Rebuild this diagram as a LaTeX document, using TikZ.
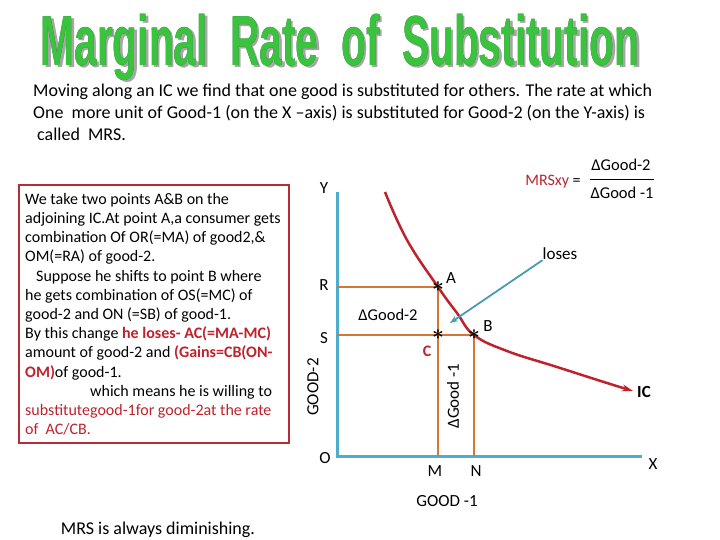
\documentclass[tikz,border=0pt]{standalone}
\usepackage{fontspec}
\setmainfont{Carlito}
\newfontfamily\headfont{Liberation Sans}
\usepackage{tikz}
\usetikzlibrary{positioning,arrows.meta}
\usepackage{xcolor}
\usepackage{pdfrender}

\definecolor{icred}{RGB}{190,35,45}
\definecolor{boxred}{RGB}{180,45,55}
\definecolor{axisblue}{RGB}{80,172,205}
\definecolor{guideorange}{RGB}{214,118,52}
\definecolor{headgreen}{RGB}{58,196,62}
\definecolor{headedge}{RGB}{32,100,48}
\definecolor{pointerteal}{RGB}{72,156,178}

\newcommand{\headword}{\scalebox{0.62}[1.08]{\fontsize{65.6}{70}\selectfont\headfont\bfseries Marginal\ \ Rate\ \ of\ \ Substitution}}

\begin{document}
\begin{tikzpicture}[x=1pt, y=-1pt,
    axisline/.style={draw=axisblue, line width=3pt},
    guideline/.style={draw=guideorange, line width=2.5pt},
    icline/.style={draw=icred, line width=2.5pt, -{Stealth[length=11pt, width=7pt]}},
    pointer/.style={draw=pointerteal, line width=1.8pt, -{Stealth[length=8pt, width=6pt]}},
    starmark/.style={inner sep=0pt, font=\fontsize{22}{22}\selectfont\boldmath},
    lbl/.style={inner sep=0pt, font=\fontsize{17}{20}\selectfont}
]

    % White page, fixed to the reference frame
    \useasboundingbox[fill=white] (0,0) rectangle (720,540);

    % Title: grey shadow, dark rim, green face
    \node[anchor=base, text=black!35] (headshade) at (342.5,68) {\headword};
    \node[anchor=base] (headrim) at (340,66) {%
        \textpdfrender{TextRenderingMode=FillStroke, LineWidth=2.6}{\color{headedge}\headword}};
    \node[anchor=base, text=headgreen] (head) at (340,66) {\headword};

    % Intro paragraph under the title
    \node[
        anchor=north west,
        align=left,
        inner sep=0pt,
        font=\fontsize{18}{22}\selectfont
    ] (intro) at (33,84) {
        Moving along an IC we find that one good is substituted for others. The rate at which\\
        One\ \ more unit of Good-1 (on the X --axis) is substituted for Good-2 (on the Y-axis) is\\
        \hspace*{4pt}called\ \ MRS.
    };

    % Left card: frame and explanation
    \node[
        draw=boxred,
        line width=2pt,
        minimum width=270pt,
        minimum height=257pt,
        inner sep=0pt
    ] (storybox) at (153.5,314) {};
    \node[
        anchor=north west,
        align=left,
        inner sep=0pt,
        font=\fontsize{16}{19.2}\selectfont
    ] (story) at (25,193) {
        We take two points A\&B on the\\
        adjoining IC.At point A,a consumer gets\\
        combination Of OR(=MA) of good2,\&\\
        OM(=RA) of good-2.\\
        \hspace*{11pt}Suppose he shifts to point B where\\
        he gets combination of OS(=MC) of\\
        good-2 and ON (=SB) of good-1.\\
        By this change \textcolor{icred}{\bfseries he loses- AC(=MA-MC)}\\
        amount of good-2 and \textcolor{icred}{\bfseries (Gains=CB(ON-}\\
        \textcolor{icred}{\bfseries OM)}of good-1.\\
        \hspace*{65pt}which means he is willing to\\
        \textcolor{icred}{substitutegood-1for good-2at the rate}\\
        \textcolor{icred}{of\ \ AC/CB.}
    };

    % Graph frame points
    \coordinate (O) at (337,456);
    \coordinate (Ytop) at (337,192);
    \coordinate (Xend) at (642,456);
    \coordinate (R) at (337,287);
    \coordinate (S) at (337,335);
    \coordinate (M) at (438,456);
    \coordinate (N) at (474,456);
    \coordinate (A) at (438,287);
    \coordinate (C) at (438,335);
    \coordinate (B) at (474,335);
    \coordinate (ICtop) at (385,192);
    \coordinate (ICend) at (633,391);

    % Axes and guide lines
    \draw[axisline] (Ytop) -- (O) -- (Xend);
    \draw[guideline] (R) -- (A) -- (M);
    \draw[guideline] (S) -- (B) -- (N);

    % Indifference curve
    \draw[icline] plot[smooth, tension=0.7] coordinates {(ICtop) (407,240) (A) (457,313) (B) (507,351) (557,367) (607,383) (ICend)};

    % Points on the curve
    \node[starmark] (Astar) at (A) {$\ast$};
    \node[starmark] (Bstar) at (B) {$\ast$};
    \node[starmark] (Cstar) at (C) {$\ast$};

    % Axis and point labels
    \node[lbl] (labY) at (324,188) {Y};
    \node[lbl] (labR) at (324,285) {R};
    \node[lbl] (labS) at (324,338) {S};
    \node[lbl] (labO) at (325,458) {O};
    \node[lbl] (labX) at (653,464) {X};
    \node[lbl] (labM) at (435,471) {M};
    \node[lbl] (labN) at (476,471) {N};
    \node[lbl] (labA) at (451,278) {A};
    \node[lbl] (labB) at (488,326) {B};
    \node[lbl, text=icred, font=\fontsize{16}{18}\selectfont\bfseries] (labC) at (427,351) {C};
    \node[lbl, font=\fontsize{17}{18}\selectfont\bfseries] (labIC) at (644,392) {IC};
    \node[lbl] (goodone) at (447,501) {GOOD -1};
    \node[lbl, rotate=90] (goodtwo) at (313,387) {GOOD-2};
    \node[lbl, font=\fontsize{16.5}{18}\selectfont] (dgoodtwo) at (388,315) {ΔGood-2};
    \node[lbl, rotate=90] (dgoodone) at (453,396) {ΔGood -1};

    % Pointer to the lost amount
    \node[lbl] (loses) at (560,254) {loses};
    \coordinate (losstip) at (450,323);
    \draw[pointer] (loses.south west) -- (losstip);

    % MRS formula
    \node[lbl, font=\fontsize{16}{18}\selectfont] (mrs) at (553,182) {\textcolor{icred}{MRSxy} =};
    \node[lbl, font=\fontsize{16.5}{18}\selectfont] (fracnum) at (621,165) {ΔGood-2};
    \node[lbl, font=\fontsize{16.5}{18}\selectfont] (fracden) at (622,193) {ΔGood -1};
    \draw[line width=0.8pt] (590,179) -- (654,179);

    % Closing remark
    \node[lbl, font=\fontsize{18}{20}\selectfont] (summary) at (158,530) {MRS is always diminishing.};

\end{tikzpicture}
\end{document}
